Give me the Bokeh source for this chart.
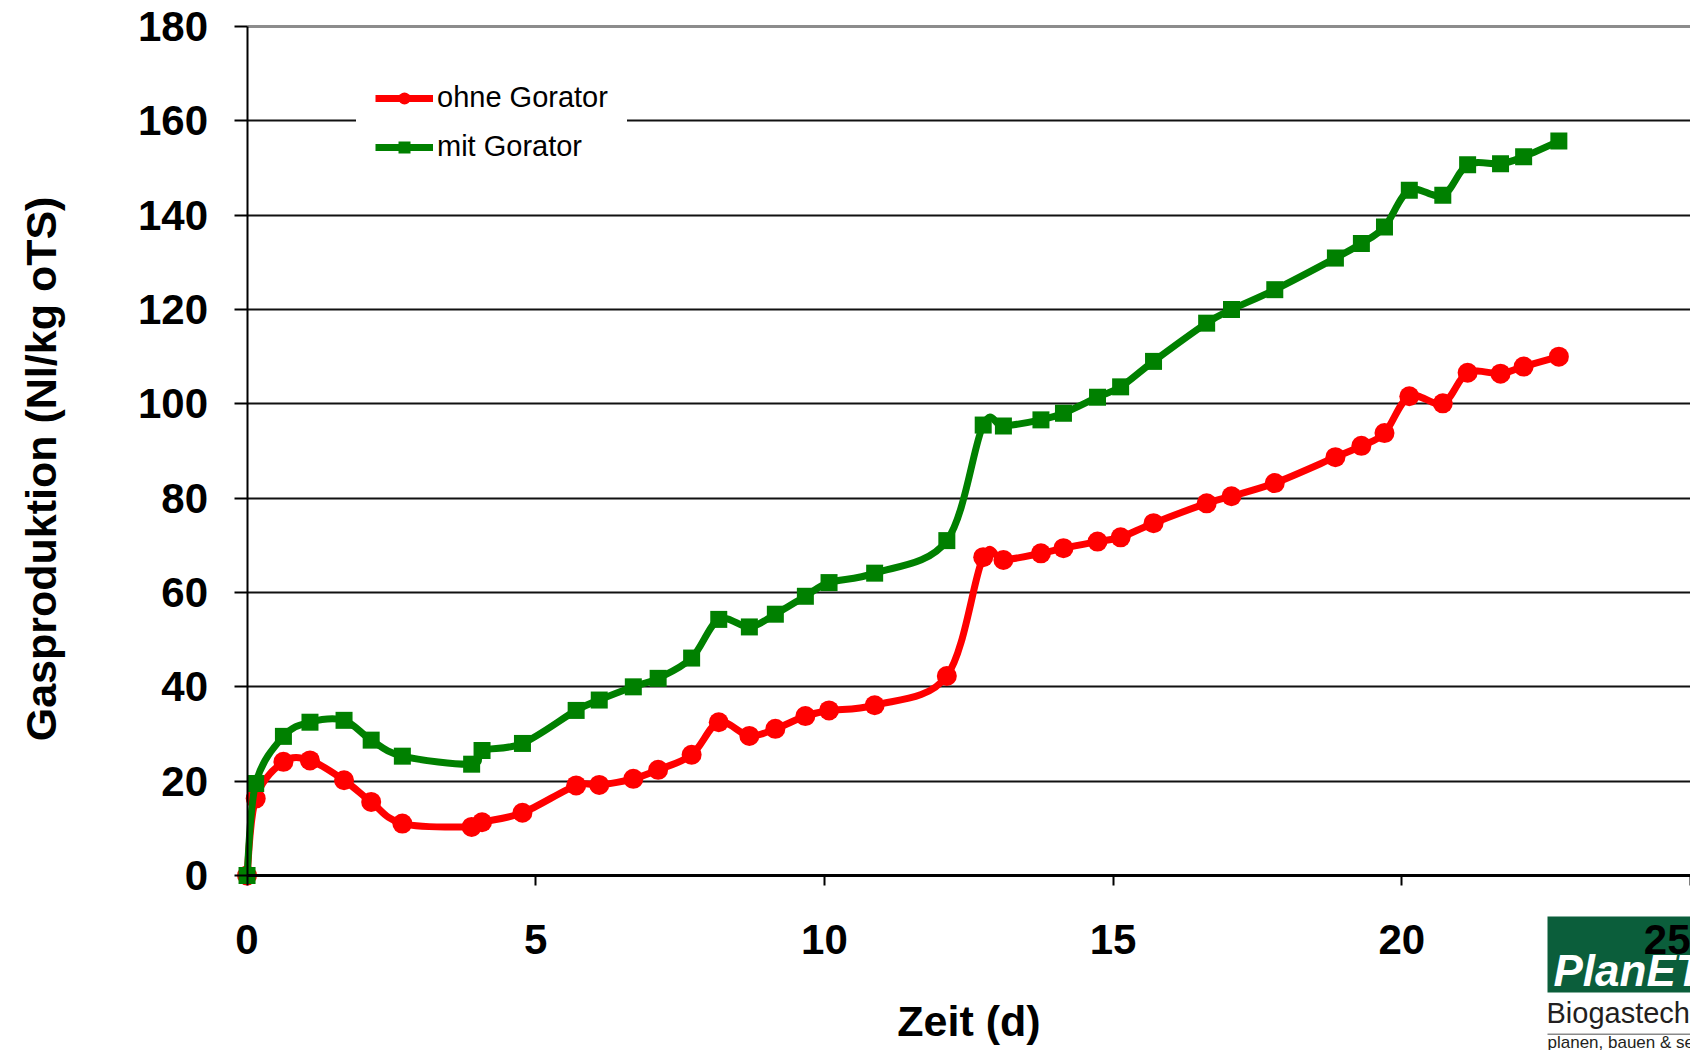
from bokeh.plotting import figure
from bokeh.models import (Range1d, ColumnDataSource, Legend, LegendItem,
                          FixedTicker, Grid, BoxAnnotation, Label)
from bokeh.embed import file_html
from bokeh.resources import INLINE

# ---- data ----
days = [0, 0.15, 0.63, 1.09, 1.68, 2.15, 2.69, 3.89, 4.07, 4.77, 5.70, 6.10,
        6.69, 7.12, 7.70, 8.17, 8.70, 9.15, 9.67, 10.08, 10.87, 12.12, 12.75,
        13.10, 13.75, 14.14, 14.73, 15.13, 15.70, 16.62, 17.05, 17.80, 18.85,
        19.30, 19.70, 20.13, 20.71, 21.14, 21.71, 22.11, 22.72]
ohne_gorator = [0, 16.3, 24.1, 24.4, 20.2, 15.6, 11.0, 10.3, 11.3, 13.3, 19.1,
                19.2, 20.5, 22.4, 25.6, 32.5, 29.6, 31.1, 33.8, 35.0, 36.1, 42.3,
                67.5, 66.9, 68.3, 69.4, 70.8, 71.7, 74.7, 78.9, 80.4, 83.2, 88.7,
                91.1, 93.8, 101.6, 100.1, 106.6, 106.4, 107.9, 110.0]
mit_gorator = [0, 19.5, 29.5, 32.5, 32.9, 28.7, 25.3, 23.6, 26.5, 28.0, 35.0,
               37.2, 40.0, 41.8, 46.1, 54.3, 52.7, 55.4, 59.2, 62.1, 64.1, 71.0,
               95.5, 95.3, 96.6, 98.0, 101.4, 103.6, 109.0, 117.1, 120.0, 124.2,
               130.9, 134.0, 137.5, 145.3, 144.2, 150.7, 150.9, 152.4, 155.7]
series_names = ["ohne Gorator", "mit Gorator"]
x_ticks = [0, 5, 10, 15, 20, 25]
y_ticks = [0, 20, 40, 60, 80, 100, 120, 140, 160, 180]

FONT = "Liberation Sans"
W, H = 1690, 1050


def smooth_source(xs, ys, t=1.0 / 6.0):
    """Bezier control points (Excel-like smoothed line) through the data."""
    n = len(xs)
    d = dict(x0=[], y0=[], x1=[], y1=[], cx0=[], cy0=[], cx1=[], cy1=[])
    for i in range(n - 1):
        a = i - 1 if i > 0 else i
        b = i + 2 if i + 2 < n else i + 1
        d["x0"].append(xs[i]); d["y0"].append(ys[i])
        d["x1"].append(xs[i + 1]); d["y1"].append(ys[i + 1])
        d["cx0"].append(xs[i] + (xs[i + 1] - xs[a]) * t)
        d["cy0"].append(ys[i] + (ys[i + 1] - ys[a]) * t)
        d["cx1"].append(xs[i + 1] - (xs[b] - xs[i]) * t)
        d["cy1"].append(ys[i + 1] - (ys[b] - ys[i]) * t)
    return ColumnDataSource(d)


# the plot frame covers the whole canvas; axes are pinned at 0
p = figure(width=W, height=H, output_backend="svg", toolbar_location=None,
           x_range=Range1d(-4.27, 25.0), y_range=Range1d(-37.10, 185.51),
           min_border_left=0, min_border_right=0, min_border_top=0,
           min_border_bottom=0)
p.outline_line_color = None
p.background_fill_color = "white"
p.border_fill_color = "white"

# grid: lines start at the value axis
p.xgrid.visible = False
p.ygrid.ticker = FixedTicker(ticks=y_ticks[:-1])
p.ygrid.grid_line_color = "#111111"
p.ygrid.grid_line_width = 2
p.ygrid.cross_bounds = (x_ticks[0], x_ticks[-1] + 1)
p.add_layout(Grid(dimension=1, ticker=FixedTicker(ticks=y_ticks[-1:]),
                  cross_bounds=(x_ticks[0], x_ticks[-1] + 1),
                  grid_line_color="#8c8c8c", grid_line_width=3))

# logo (decoration, bottom right, screen units = canvas pixels from bottom-left)
p.add_layout(BoxAnnotation(left=1547, right=1700, top=134, bottom=58,
                           left_units="screen", right_units="screen",
                           top_units="screen", bottom_units="screen",
                           fill_color="#0b5e3b", fill_alpha=1.0, line_color=None,
                           level="underlay"))
p.add_layout(Label(x=1553, y=80, x_units="screen", y_units="screen",
                   text="PlanET", text_color="white", text_font=FONT,
                   text_font_style="bold italic", text_font_size="44px",
                   text_baseline="alphabetic", level="underlay"))
p.add_layout(Label(x=1546, y=38, x_units="screen", y_units="screen",
                   text="Biogastechnik", text_color="#231f20", text_font=FONT,
                   text_font_size="29px", text_baseline="alphabetic",
                   level="underlay"))
p.add_layout(BoxAnnotation(left=1547, right=1700, top=17, bottom=15.5,
                           left_units="screen", right_units="screen",
                           top_units="screen", bottom_units="screen",
                           fill_color="#8a8a8a", fill_alpha=1.0, line_color=None,
                           level="underlay"))
p.add_layout(Label(x=1547, y=8, x_units="screen", y_units="screen",
                   text="planen, bauen & service", text_color="#231f20",
                   text_font=FONT, text_font_size="17px",
                   text_baseline="alphabetic", level="underlay"))

# axes
for ax in (p.xaxis[0], p.yaxis[0]):
    ax.major_label_text_font = FONT
    ax.major_label_text_font_style = "bold"
    ax.major_label_text_font_size = "42px"
    ax.major_label_text_color = "black"
    ax.axis_label_text_font = FONT
    ax.axis_label_text_font_style = "bold"
    ax.axis_label_text_font_size = "43px"
    ax.axis_label_text_color = "black"
    ax.minor_tick_line_color = None
    ax.major_tick_in = 0
    ax.major_tick_line_color = "black"
    ax.axis_line_color = "black"

p.xaxis.fixed_location = 0
p.xaxis.bounds = (x_ticks[0], x_ticks[-1])
p.xaxis.ticker = FixedTicker(ticks=x_ticks)
p.xaxis.axis_label = "Zeit (d)"
p.xaxis.axis_line_width = 3
p.xaxis.major_tick_line_width = 2
p.xaxis.major_tick_out = 10
p.xaxis.major_label_standoff = 39
p.xaxis.axis_label_standoff = 40

p.yaxis.fixed_location = 0
p.yaxis.bounds = (y_ticks[0], y_ticks[-1])
p.yaxis.ticker = FixedTicker(ticks=y_ticks)
# trailing no-break spaces move the centred title down, as in the reference
p.yaxis.axis_label = "Gasproduktion (Nl/kg oTS)\u00a0\u00a0\u00a0"
p.yaxis.axis_line_width = 2
p.yaxis.major_tick_line_width = 2
p.yaxis.major_tick_out = 13
p.yaxis.major_label_standoff = 26
p.yaxis.axis_label_standoff = 70

# series
red_line = p.bezier(x0="x0", y0="y0", x1="x1", y1="y1", cx0="cx0", cy0="cy0",
                    cx1="cx1", cy1="cy1", source=smooth_source(days, ohne_gorator),
                    line_color="#ff0000", line_width=7)
red_pts = p.scatter(days, ohne_gorator, marker="circle", size=20,
                    fill_color="#ff0000", line_color=None)
green_line = p.bezier(x0="x0", y0="y0", x1="x1", y1="y1", cx0="cx0", cy0="cy0",
                      cx1="cx1", cy1="cy1", source=smooth_source(days, mit_gorator),
                      line_color="#008000", line_width=7)
green_pts = p.scatter(days, mit_gorator, marker="square", size=17,
                      fill_color="#008000", line_color=None)

legend = Legend(items=[LegendItem(label=series_names[0], renderers=[red_line, red_pts]),
                       LegendItem(label=series_names[1], renderers=[green_line, green_pts])],
                location=(356, 868), orientation="vertical",
                label_text_font=FONT, label_text_font_size="29px",
                label_text_color="black", glyph_width=58, glyph_height=30,
                label_height=30, label_standoff=4, spacing=16, padding=0,
                margin=0, border_line_color="white", border_line_width=19,
                background_fill_color="white", background_fill_alpha=1.0)
p.add_layout(legend)

open("out.html", "w").write(file_html(p, INLINE))
